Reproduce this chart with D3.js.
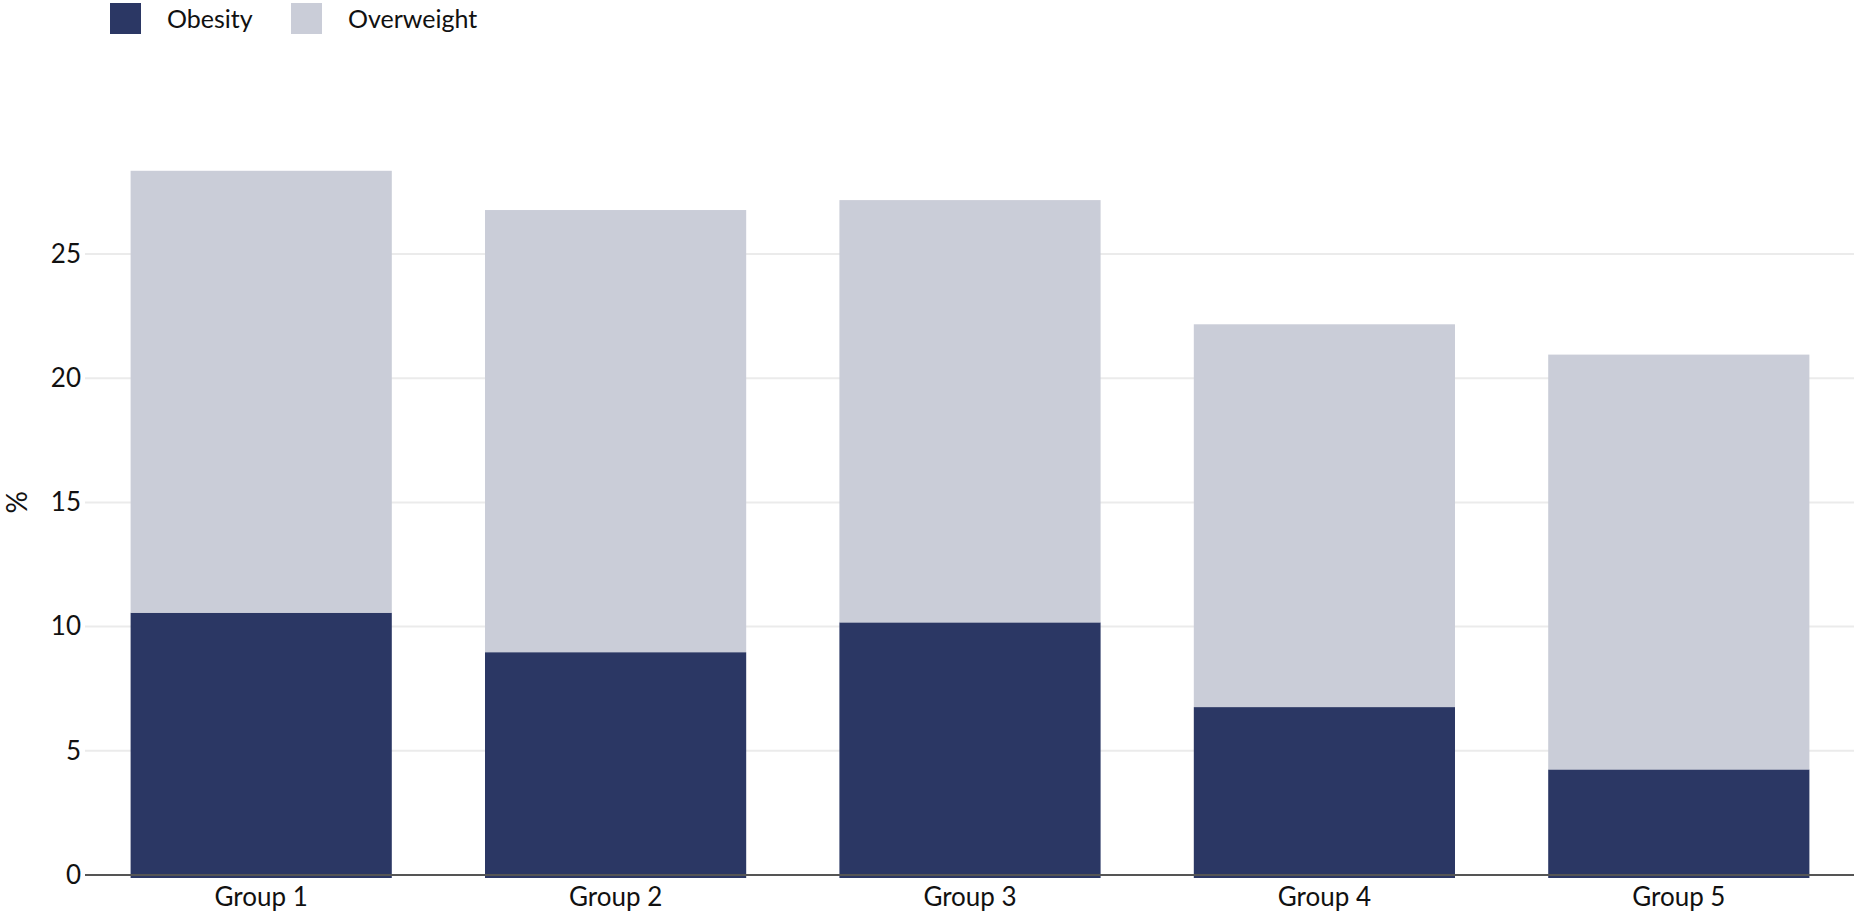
<!DOCTYPE html>
<html>
<head>
<meta charset="utf-8">
<script src="https://cdn.jsdelivr.net/npm/d3@7"></script>
<style>
	body { margin: 0; background: #fff; }
	text { font-family: Lato, "Noto Sans", sans-serif; fill: #111; }
</style>
</head>
<body>
<div id="chart"></div>
<script>
// data
var groups = ["Group 1", "Group 2", "Group 3", "Group 4", "Group 5"];
var seriesNames = ["Obesity", "Overweight"];
var obesity = [10.56, 8.97, 10.17, 6.76, 4.25];
var overweight = [17.79, 17.80, 17.00, 15.41, 16.70];
var yTicks = [0, 5, 10, 15, 20, 25];
var colors = ["#2b3764", "#cacdd8"];

var width = 1854,
	height = 917,
	fontSize = 26;

var svg = d3.select("#chart").append("svg")
			.attr("width", width)
			.attr("height", height);

//scales
var x = d3.scaleBand()
		.domain(groups)
		.range([84, 1856])
		.paddingInner(0.263)
		.paddingOuter(0.1315);

var y = d3.scaleLinear()
		.domain([0, 30])
		.range([875, 875 - 30 * 24.84]);

//gridlines
svg.append("g")
	.selectAll("line")
	.data(yTicks.filter(function(d){ return d > 0; }))
	.enter()
	.append("line")
	.attr("x1", 85)
	.attr("x2", width)
	.attr("y1", function(d){ return y(d); })
	.attr("y2", function(d){ return y(d); })
	.attr("stroke", "#ebebeb")
	.attr("stroke-width", 2);

//stack the two series
var rows = groups.map(function(g, i){
	return {group: g, Obesity: obesity[i], Overweight: overweight[i]};
});
var stacked = d3.stack().keys(seriesNames)(rows);

svg.append("g")
	.selectAll("g")
	.data(stacked)
	.enter()
	.append("g")
	.attr("fill", function(d, i){ return colors[i]; })
	.selectAll("rect")
	.data(function(d){ return d; })
	.enter()
	.append("rect")
	.attr("x", function(d){ return x(d.data.group); })
	.attr("width", x.bandwidth())
	.attr("y", function(d){ return y(d[1]); })
	.attr("height", function(d){
		//bars run a little past the zero line, like the original
		var bottom = d[0] === 0 ? y(0) + 3 : y(d[0]);
		return bottom - y(d[1]);
	});

//zero line
svg.append("line")
	.attr("x1", 85)
	.attr("x2", width)
	.attr("y1", y(0))
	.attr("y2", y(0))
	.attr("stroke", "#555")
	.attr("stroke-width", 2);

//y axis labels
var yAxis = d3.axisLeft(y).tickValues(yTicks).tickSize(0).tickPadding(0);
var yg = svg.append("g")
	.attr("transform", "translate(81,0)")
	.call(yAxis);
yg.select(".domain").remove();
yg.selectAll("text")
	.attr("font-size", fontSize)
	.attr("fill", "#111")
	.attr("font-family", "Lato, 'Noto Sans', sans-serif");

//x axis labels
var xAxis = d3.axisBottom(x).tickSize(0).tickPadding(0);
var xg = svg.append("g")
	.attr("transform", "translate(0,888)")
	.call(xAxis);
xg.select(".domain").remove();
xg.selectAll("text")
	.attr("font-size", fontSize)
	.attr("fill", "#111")
	.attr("font-family", "Lato, 'Noto Sans', sans-serif");

//y title
svg.append("text")
	.attr("transform", "translate(27," + ((y(0) + y(30)) / 2) + ") rotate(-90)")
	.attr("text-anchor", "middle")
	.attr("font-size", fontSize + 2)
	.text("%");

//legend
var legendX = [110, 291];
var legend = svg.append("g")
	.selectAll("g")
	.data(seriesNames)
	.enter()
	.append("g")
	.attr("transform", function(d, i){ return "translate(" + legendX[i] + ",3)"; });

legend.append("rect")
	.attr("width", 31)
	.attr("height", 31)
	.attr("fill", function(d, i){ return colors[i]; });

legend.append("text")
	.attr("x", 57)
	.attr("y", 25)
	.attr("font-size", fontSize - 1)
	.text(function(d){ return d; });
</script>
</body>
</html>
